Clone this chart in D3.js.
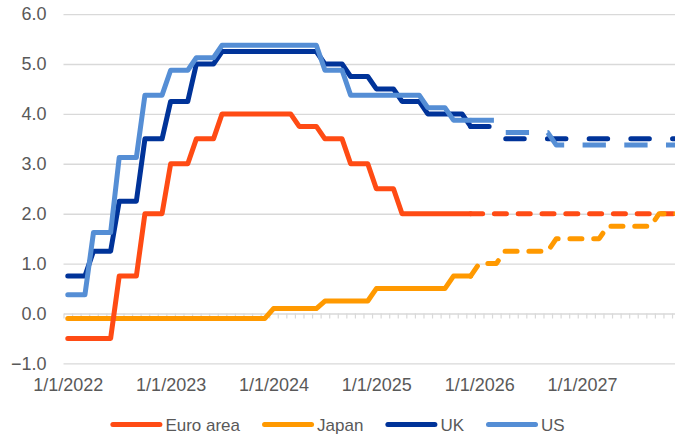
<!doctype html>
<html>
<head>
<meta charset="utf-8">
<script src="https://d3js.org/d3.v7.min.js"></script>
<style>
  body { margin: 0; background: #fff; }
  text { font-family: "Liberation Sans", Arial, sans-serif; fill: #595959; }
</style>
</head>
<body>
<svg id="chart" width="675" height="435"></svg>
<script>
// monthly values, Jan 2022 .. Dec 2027 (72 months)
var euroArea = [
  -0.5,-0.5,-0.5,-0.5,-0.5,-0.5,0.75,0.75,0.75,2,2,2,
  3,3,3,3.5,3.5,3.5,4,4,4,4,4,4,
  4,4,4,3.75,3.75,3.75,3.5,3.5,3.5,3,3,3,
  2.5,2.5,2.5,2,2,2,2,2,2,2,2,2,
  2,2,2,2,2,2,2,2,2,2,2,2,
  2,2,2,2,2,2,2,2,2,2,2,2
];
var japan = [
  -0.1,-0.1,-0.1,-0.1,-0.1,-0.1,-0.1,-0.1,-0.1,-0.1,-0.1,-0.1,
  -0.1,-0.1,-0.1,-0.1,-0.1,-0.1,-0.1,-0.1,-0.1,-0.1,-0.1,-0.1,
  0.1,0.1,0.1,0.1,0.1,0.1,0.25,0.25,0.25,0.25,0.25,0.25,
  0.5,0.5,0.5,0.5,0.5,0.5,0.5,0.5,0.5,0.75,0.75,0.75,
  1,1,1,1.25,1.25,1.25,1.25,1.25,1.25,1.5,1.5,1.5,
  1.5,1.5,1.5,1.75,1.75,1.75,1.75,1.75,1.75,2,2,2
];
var uk = [
  0.75,0.75,0.75,1.25,1.25,1.25,2.25,2.25,2.25,3.5,3.5,3.5,
  4.25,4.25,4.25,5,5,5,5.25,5.25,5.25,5.25,5.25,5.25,
  5.25,5.25,5.25,5.25,5.25,5.25,5,5,5,4.75,4.75,4.75,
  4.5,4.5,4.5,4.25,4.25,4.25,4,4,4,4,4,3.75,
  3.75,3.75,3.75,3.5,3.5,3.5,3.5,3.5,3.5,3.5,3.5,3.5,
  3.5,3.5,3.5,3.5,3.5,3.5,3.5,3.5,3.5,3.5,3.5,3.5
];
var us = [
  0.375,0.375,0.375,1.625,1.625,1.625,3.125,3.125,3.125,4.375,4.375,4.375,
  4.875,4.875,4.875,5.125,5.125,5.125,5.375,5.375,5.375,5.375,5.375,5.375,
  5.375,5.375,5.375,5.375,5.375,5.375,4.875,4.875,4.875,4.375,4.375,4.375,
  4.375,4.375,4.375,4.375,4.375,4.375,4.125,4.125,4.125,3.875,3.875,3.875,
  3.875,3.875,3.875,3.625,3.625,3.625,3.625,3.625,3.625,3.375,3.375,3.375,
  3.375,3.375,3.375,3.375,3.375,3.375,3.375,3.375,3.375,3.375,3.375,3.375
];
var lastActual = 47;   // Dec 2025; forecasts start here
var yearLabels = ["1/1/2022","1/1/2023","1/1/2024","1/1/2025","1/1/2026","1/1/2027"];
var yTicks = [-1,0,1,2,3,4,5,6];

var series = [
  {name: "Euro area", values: euroArea, color: "#ff4b14", dash: "12,11.8", cap: "round"},
  {name: "Japan", values: japan, color: "#ff9900", dash: "12,11.8", cap: "round"},
  {name: "UK", values: uk, color: "#003399", dash: "18.5,23.2", cap: "round"},
  {name: "US", values: us, color: "#558ed5", dash: "23.3,18.4", cap: "butt"}
];

var svg = d3.select("#chart");

var x = d3.scaleLinear().domain([-0.5, 71.5]).range([63.5, 680.6]);
var y = d3.scaleLinear().domain([-1, 6]).range([363.4, 14.1]);

// horizontal gridlines
svg.append("g")
  .attr("transform", "translate(63.5,0)")
  .call(d3.axisLeft(y).tickValues(yTicks.filter(function(d){ return d !== 0; }))
    .tickSize(-620).tickFormat(""))
  .call(function(g){
    g.select(".domain").remove();
    g.selectAll("line").attr("stroke", "#d9d9d9").attr("stroke-width", 1.4);
  });

// y labels
svg.append("g")
  .attr("transform", "translate(63.5,0)")
  .call(d3.axisLeft(y).tickValues(yTicks).tickSize(0).tickPadding(17)
    .tickFormat(d3.format(".1f")))
  .call(function(g){
    g.select(".domain").remove();
    g.selectAll("text").style("font-size", "18px").attr("fill", "#595959");
  });

// zero line with monthly ticks
svg.append("g")
  .attr("transform", "translate(0," + y(0) + ")")
  .call(d3.axisBottom(x).tickValues(d3.range(-0.5, 72, 1)).tickSize(5)
    .tickSizeOuter(0).tickFormat(""))
  .call(function(g){
    g.select(".domain").attr("stroke", "#d9d9d9").attr("stroke-width", 1.4);
    g.selectAll("line").attr("stroke", "#d9d9d9").attr("stroke-width", 1.2);
  });

// date labels
svg.append("g")
  .attr("transform", "translate(0," + y(-1) + ")")
  .call(d3.axisBottom(x).tickValues(d3.range(0, 72, 12)).tickSize(0).tickPadding(14.5)
    .tickFormat(function(d, i){ return yearLabels[i]; }))
  .call(function(g){
    g.select(".domain").remove();
    g.selectAll("text").style("font-size", "18px").attr("fill", "#595959");
  });

var line = d3.line()
  .x(function(d){ return x(d.i); })
  .y(function(d){ return y(d.v); });

function pts(vals, a, b) {
  var out = [];
  for (var i = a; i <= b; i++) out.push({i: i, v: vals[i]});
  return out;
}

var actualOrder = [1, 0, 2, 3];
actualOrder.forEach(function(k){
  var s = series[k];
  svg.append("path")
    .datum(pts(s.values, 0, lastActual))
    .attr("d", line)
    .attr("fill", "none")
    .attr("stroke", s.color)
    .attr("stroke-width", 5)
    .attr("stroke-linejoin", "round")
    .attr("stroke-linecap", "round");
});

series.forEach(function(s){
  svg.append("path")
    .datum(pts(s.values, lastActual, s.values.length - 1))
    .attr("d", line)
    .attr("fill", "none")
    .attr("stroke", s.color)
    .attr("stroke-width", 5)
    .attr("stroke-dasharray", s.dash)
    .attr("stroke-linejoin", "round")
    .attr("stroke-linecap", s.cap);
});

// legend
var legend = svg.append("g");
var lx = 0;
series.forEach(function(s){
  var item = legend.append("g").attr("transform", "translate(" + lx + ",0)");
  item.append("line")
    .attr("x1", 2.5).attr("x2", 49.5).attr("y1", 0).attr("y2", 0)
    .attr("stroke", s.color).attr("stroke-width", 5).attr("stroke-linecap", "round");
  var t = item.append("text")
    .attr("x", 55).attr("y", 6)
    .style("font-size", "17px")
    .text(s.name);
  lx += 55 + t.node().getComputedTextLength() + 22;
});
var legendW = lx - 22;
legend.attr("transform", "translate(" + ((675 - legendW) / 2) + ",424.5)");
</script>
</body>
</html>
